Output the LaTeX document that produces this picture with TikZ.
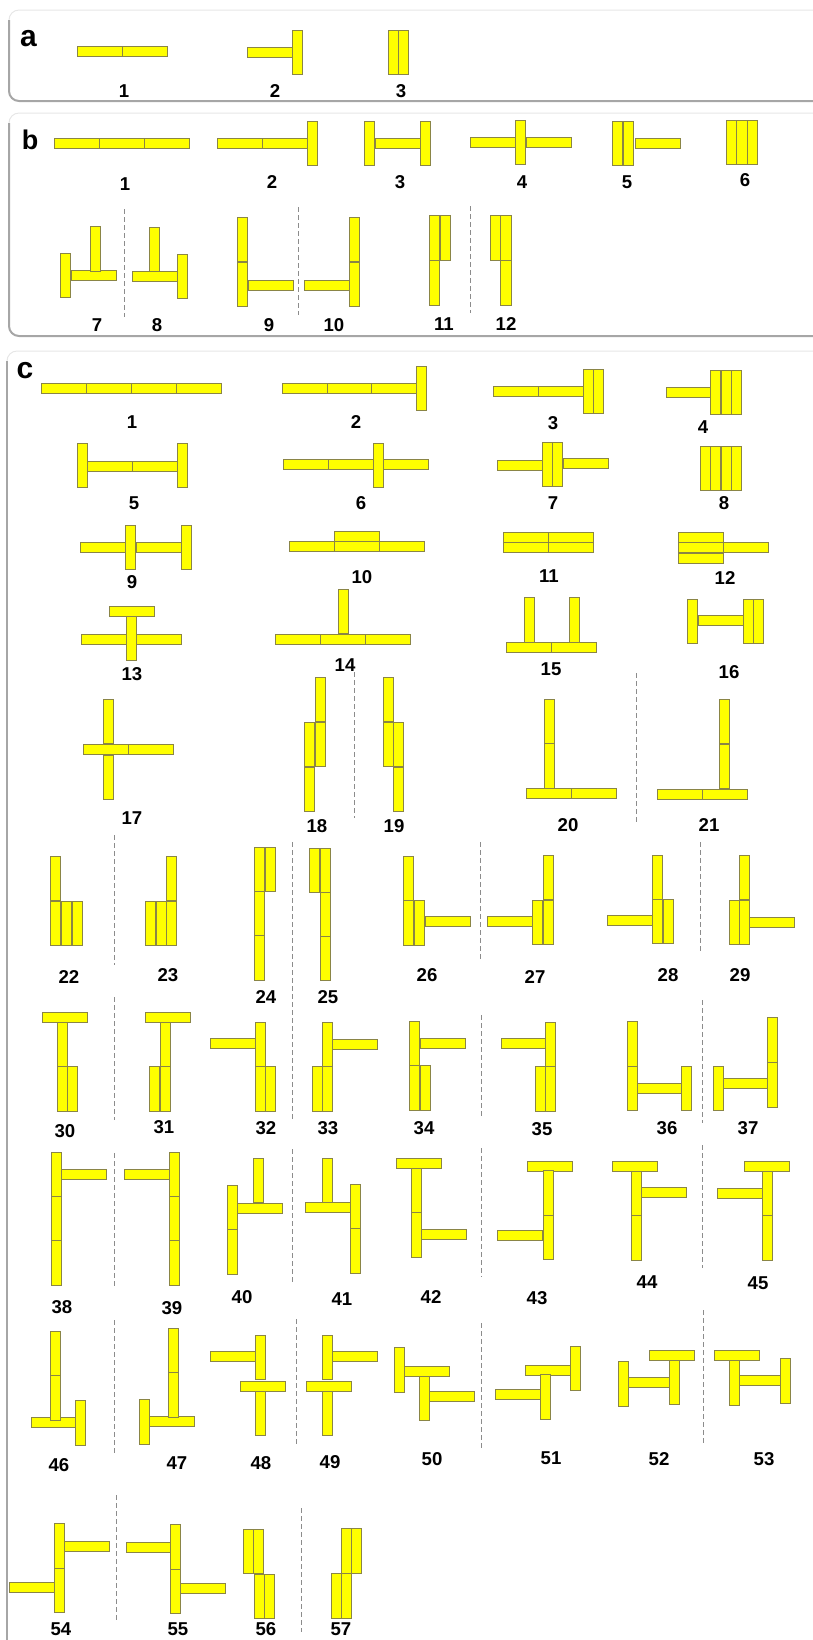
\documentclass[tikz,border=0pt]{standalone}
\usepackage{fontspec}
\setsansfont{Liberation Sans}
\usepackage{tikz}
\definecolor{BarFill}{HTML}{FFFF00}
\definecolor{BarEdge}{HTML}{8A8546}
\definecolor{FrameLine}{HTML}{A6A6A6}
\definecolor{FrameFaint}{HTML}{E6E6E6}
\definecolor{SepGray}{HTML}{8C8C8C}
\tikzset{
  % Yellow bar (drawn as a plain rectangle)
  bar/.style={draw=BarEdge, fill=BarFill, line width=0.45pt},
  % Panel frame, faint outline
  pnl/.style={draw=FrameFaint, line width=0.5pt, rounded corners=5pt},
  % Panel frame, shaded left and bottom edge
  pnledge/.style={draw=FrameLine, line width=1pt, rounded corners=5pt},
  % Dashed separator between mirror pairs
  sep/.style={draw=SepGray, line width=0.5pt, dash pattern=on 2.5pt off 1.5pt},
  % Number under a bar group
  num/.style={inner sep=0pt, font=\sffamily\bfseries\fontsize{9.3}{10}\selectfont},
  % Panel letter
  tag/.style={inner sep=0pt, font=\sffamily\bfseries\fontsize{#1}{16}\selectfont},
  tag/.default=13.5
}

\begin{document}
\begin{tikzpicture}[x=0.5pt, y=-0.5pt]
  \useasboundingbox (0,0) rectangle (813,1640);
  \clip (0,0) rectangle (813,1640);

  % Panel frames
  \draw[pnl] (9,10) rectangle (850,101);
  \draw[pnledge] (9,20) |- (850,101);
  \draw[pnl] (9,113) rectangle (850,336);
  \draw[pnledge] (9,123) |- (850,336);
  \draw[pnl] (7,351) rectangle (850,1700);
  \draw[pnledge] (7,361) -- (7,1700);

  \node[tag=15] (taga) at (28.5,38.5) {a};
  \node[tag] (tagb) at (30,140) {b};
  \node[tag=15] (tagc) at (25,371) {c};

  % Separators
  \foreach \x/\ya/\yb in {124/209/317, 298/207/315, 470/206/313,
      354/672/818, 636/673/822, 114/835/965, 292/842/1120, 480/842/960, 700/842/952,
      114/997/1120, 481/1015/1117, 702/1000/1123,
      114/1153/1287, 292/1149/1282, 481/1148/1277, 702/1145/1268,
      114/1320/1453, 296/1319/1447, 481/1323/1451, 703/1310/1444,
      116/1495/1623, 301/1508/1632}
    \draw[sep] (\x,\ya) -- (\x,\yb);

  % Horizontal bars, panels a and b
  \foreach \x/\y in {77/46, 122/46, 247/47,
      54/138, 99/138, 144/138, 217/138, 262/138, 375/138, 470/137, 526/137, 635/138,
      71/270, 132/271, 248/280, 304/280}
    \draw[bar] (\x,\y) rectangle ++(45,10.4);

  % Horizontal bars, panel c
  \foreach \x/\y in {41/383, 86/383, 131/383, 176/383, 282/383, 327/383, 371/383,
      493/386, 538/386, 666/387,
      87/461, 132/461, 283/459, 328/459, 383/459, 497/460, 563/458,
      80/542, 136/542, 289/541, 334/541, 379/541, 334/531,
      503/532, 548/532, 503/542.5, 548/542.5, 678/532, 678/542.5, 678/553, 723/542.5,
      109/606, 81/634, 136/634, 275/634, 320/634, 365/634, 506/642.5, 551/642.5, 698/615,
      83/744, 128/744, 526/788.5, 571/788.5, 657/789, 702/789,
      425/916, 487.5/916, 607/915, 749.5/917,
      42/1012, 145/1012, 210/1038, 332.5/1039, 420/1038, 501/1038, 637.5/1083, 722.5/1078.5,
      61.5/1169.5, 124.5/1169.5, 237.5/1203, 305/1202, 396/1158, 421/1229.5,
      527.5/1161, 497.5/1230, 612.5/1161.5, 641.5/1187.5, 744/1161.5, 717.5/1188,
      31/1417, 149/1416, 210/1351, 240/1381, 332/1351.5, 306.5/1381,
      404.5/1366.5, 429/1391, 525.5/1365, 495.5/1389.5, 626/1377.5, 649.5/1350,
      714.5/1350.5, 736/1375.5,
      64/1541.5, 9/1582.5, 126/1542.5, 180.5/1583}
    \draw[bar] (\x,\y) rectangle ++(45,10.4);

  % Vertical bars, panels a and b
  \foreach \x/\y in {292.5/30, 388/30, 398.5/30,
      307/121, 364.5/121, 420/121, 515.5/120, 612.5/121, 623/121,
      726/120, 736.7/120, 747.4/120,
      60/253, 90/226.5, 149/227, 177/254, 237/217, 237/262, 349/217, 349/262,
      429/215.5, 440/215.5, 429/260.5, 490/215.5, 500.7/215.5, 500.7/260.5}
    \draw[bar] (\x,\y) rectangle ++(10.4,44.5);

  % Vertical bars, panel c
  \foreach \x/\y in {416/366, 583/369, 593.5/369, 710.5/370, 721/370, 731.5/370,
      77/443, 177.5/443, 373/443, 542/442, 552.5/442,
      700/446, 710.5/446, 721/446, 731.5/446,
      125.5/525, 181/525, 126/616, 338/589, 524/597.5, 569/597.5,
      687.5/599, 743/599, 753.5/599,
      103/699, 103/755, 315/677, 315/722, 304.5/722, 304.5/767,
      383/677, 383/722, 393.5/722, 393.5/767,
      544/699, 544/743.5, 719.5/699, 719.5/744,
      50.5/856, 50.5/901, 61.2/901, 72/901,
      145.5/901, 156/901, 166.5/901, 166.5/856,
      254/847, 265.5/847, 254/891.5, 254/935.5,
      309.5/848, 320/848, 320/892, 320/936,
      403/856, 403/900.5, 414/900.5, 532.5/900, 543/900, 543/855,
      652/855, 652/899, 663/899, 729/900, 739.5/900, 739.5/855,
      57/1022, 57/1066.5, 67.5/1066.5, 160/1022, 149.5/1066.5, 160/1066.5,
      255/1022, 255/1066.5, 265.5/1066.5, 322.5/1022, 322.5/1066.5, 312/1066.5,
      409.5/1021, 409.5/1065.5, 420/1065.5, 545.5/1022, 545.5/1066.5, 535/1066.5,
      627.5/1021.5, 627.5/1066, 681.5/1066, 713.5/1066, 767.5/1017.5, 767.5/1062.5,
      51/1152, 51/1196.5, 51/1240.5, 169.5/1152, 169.5/1196.5, 169.5/1240.5,
      227.5/1185.5, 227.5/1229.5, 253/1158, 322.5/1158, 350/1184.5, 350/1228.5,
      411/1168.5, 411/1212.5, 543/1170.5, 543/1215,
      631.5/1171.5, 631.5/1215.5, 762.5/1171.5, 762.5/1215.5,
      50/1331, 50/1375.5, 75.5/1400.5, 168.5/1328.5, 168.5/1372.5, 139/1399.5,
      255/1335, 255/1391, 322/1335, 322/1391,
      394/1347.5, 419/1376, 570.5/1346, 540.5/1374.5,
      618/1361.5, 669.5/1360, 729/1360.5, 780/1358.5,
      54/1523.5, 54/1568, 170.5/1524.5, 170.5/1569,
      243/1529, 253.5/1529, 254/1574, 264.5/1574,
      341/1528.5, 351.5/1528.5, 331/1573.5, 341/1573.5}
    \draw[bar] (\x,\y) rectangle ++(10.4,44.5);

  % Numbers
  \foreach \x/\y/\lab in {124/91/1, 275/91/2, 401/91/3}
    \node[num] (a\lab) at (\x,\y) {\lab};
  \foreach \x/\y/\lab in {125/184/1, 272/182/2, 400/182/3, 522/182/4, 627/182/5, 745/180/6,
      97/325/7, 157/325/8, 269/325/9, 334/325/10, 444/324/11, 506/324/12}
    \node[num] (b\lab) at (\x,\y) {\lab};
  \foreach \x/\y/\lab in {132/422/1, 356/422/2, 553/423/3, 703/427/4,
      134/503/5, 361/503/6, 553/503/7, 724/503/8,
      132/582/9, 362/577/10, 549/576/11, 725/578/12,
      132/674/13, 345/665/14, 551/669/15, 729/672/16,
      132/818/17, 317/826/18, 394/826/19, 568/825/20, 709/825/21,
      69/977/22, 168/975/23, 266/997/24, 328/997/25, 427/975/26, 535/977/27, 668/975/28, 740/975/29,
      65/1131/30, 164/1127/31, 266/1128/32, 328/1128/33, 424/1128/34, 542/1129/35, 667/1128/36, 748/1128/37,
      62/1307/38, 172/1308/39, 242/1297/40, 342/1299/41, 431/1297/42, 537/1298/43, 647/1282/44, 758/1283/45,
      59/1465/46, 177/1463/47, 261/1463/48, 330/1462/49, 432/1459/50, 551/1458/51, 659/1459/52, 764/1459/53,
      61/1629/54, 178/1629/55, 266/1629/56, 341/1629/57}
    \node[num] (c\lab) at (\x,\y) {\lab};
\end{tikzpicture}
\end{document}
